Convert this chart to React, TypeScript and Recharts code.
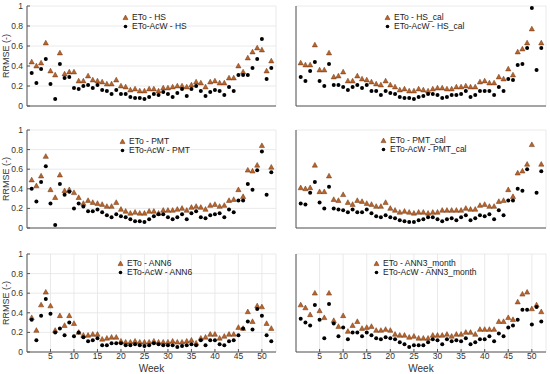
import { ScatterChart, Scatter, XAxis, YAxis, CartesianGrid, Legend } from "recharts";

const weeks = Array.from({ length: 52 }, (_, i) => i + 1);
const xTicks = [5, 10, 15, 20, 25, 30, 35, 40, 45, 50];
const yTicks = [0, 0.2, 0.4, 0.6, 0.8, 1];

type V = number | null;

const hsEto: V[] = [0.44, 0.40, 0.43, 0.63, 0.35, 0.31, 0.53, 0.32, 0.34, 0.34, 0.25, 0.25, 0.30, 0.26, 0.25, 0.24, 0.22, 0.22, 0.26, 0.20, 0.19, 0.16, 0.17, 0.15, 0.15, 0.17, 0.17, 0.15, 0.18, 0.18, 0.19, 0.20, 0.20, 0.19, 0.21, 0.24, 0.23, 0.19, 0.24, 0.25, 0.23, 0.23, 0.28, 0.28, 0.40, 0.34, 0.48, 0.54, 0.58, 0.56, 0.35, 0.45];
const hsAcw: V[] = [0.33, 0.23, 0.37, 0.47, 0.22, 0.07, 0.42, 0.28, 0.29, 0.18, 0.17, 0.20, 0.21, 0.18, 0.21, 0.16, 0.15, 0.12, 0.16, 0.12, 0.12, 0.09, 0.08, 0.08, 0.07, 0.09, 0.12, 0.11, 0.14, 0.12, 0.09, 0.13, 0.17, 0.10, 0.17, 0.20, 0.15, 0.10, 0.14, 0.16, 0.15, 0.11, 0.19, 0.15, 0.31, 0.31, 0.31, 0.38, 0.47, 0.67, 0.27, 0.38];

const hsCalEto: V[] = [0.43, 0.41, 0.41, 0.61, 0.36, 0.36, 0.53, 0.29, 0.30, 0.34, 0.25, 0.25, 0.30, 0.27, 0.26, 0.24, 0.22, 0.21, 0.25, 0.21, 0.19, 0.16, 0.17, 0.15, 0.15, 0.17, 0.16, 0.15, 0.17, 0.18, 0.18, 0.17, 0.17, 0.19, 0.19, 0.20, 0.19, 0.19, 0.24, 0.25, 0.23, 0.23, 0.29, 0.27, 0.37, 0.31, 0.54, 0.57, 0.63, 0.77, null, 0.63];
const hsCalAcw: V[] = [0.29, 0.25, 0.35, 0.44, 0.25, 0.20, 0.42, 0.21, 0.21, 0.19, 0.16, 0.19, 0.21, 0.18, 0.21, 0.15, 0.15, 0.11, 0.15, 0.13, 0.12, 0.09, 0.08, 0.08, 0.07, 0.09, 0.10, 0.12, 0.12, 0.11, 0.08, 0.09, 0.11, 0.11, 0.12, 0.15, 0.09, 0.11, 0.15, 0.15, 0.15, 0.11, 0.19, 0.15, 0.27, 0.26, 0.41, 0.42, 0.58, 0.98, 0.36, 0.58];

const pmtEto: V[] = [0.49, 0.43, 0.53, 0.73, 0.39, 0.31, 0.54, 0.38, 0.39, 0.36, 0.31, 0.25, 0.28, 0.26, 0.25, 0.24, 0.22, 0.22, 0.26, 0.19, 0.17, 0.15, 0.16, 0.15, 0.15, 0.17, 0.17, 0.15, 0.18, 0.18, 0.18, 0.19, 0.20, 0.18, 0.21, 0.22, 0.21, 0.19, 0.23, 0.24, 0.22, 0.23, 0.28, 0.29, 0.39, 0.32, 0.59, 0.58, 0.64, 0.84, null, 0.62];
const pmtAcw: V[] = [0.40, 0.27, 0.47, 0.63, 0.25, 0.03, 0.45, 0.34, 0.37, 0.20, 0.25, 0.22, 0.17, 0.17, 0.19, 0.16, 0.13, 0.11, 0.14, 0.12, 0.11, 0.09, 0.07, 0.07, 0.06, 0.09, 0.12, 0.14, 0.14, 0.11, 0.09, 0.11, 0.14, 0.09, 0.15, 0.17, 0.11, 0.10, 0.13, 0.14, 0.15, 0.11, 0.19, 0.16, 0.28, 0.28, 0.45, 0.39, 0.59, 0.78, 0.34, 0.57];

const pmtCalEto: V[] = [0.41, 0.40, 0.41, 0.64, 0.37, 0.37, 0.53, 0.29, 0.28, 0.34, 0.26, 0.24, 0.28, 0.27, 0.25, 0.24, 0.22, 0.22, 0.26, 0.20, 0.18, 0.16, 0.17, 0.16, 0.15, 0.16, 0.16, 0.15, 0.16, 0.16, 0.18, 0.18, 0.18, 0.18, 0.18, 0.20, 0.19, 0.19, 0.23, 0.24, 0.22, 0.22, 0.27, 0.28, 0.39, 0.32, 0.56, 0.58, 0.65, 0.85, null, 0.65];
const pmtCalAcw: V[] = [0.25, 0.24, 0.36, 0.47, 0.26, 0.20, 0.42, 0.20, 0.19, 0.18, 0.16, 0.19, 0.16, 0.16, 0.19, 0.15, 0.12, 0.11, 0.13, 0.11, 0.10, 0.08, 0.07, 0.06, 0.06, 0.08, 0.09, 0.11, 0.11, 0.09, 0.07, 0.09, 0.10, 0.08, 0.11, 0.13, 0.08, 0.10, 0.13, 0.12, 0.14, 0.09, 0.18, 0.13, 0.28, 0.28, 0.40, 0.38, 0.60, null, 0.36, 0.58];

const ann6Eto: V[] = [0.35, 0.22, 0.48, 0.61, 0.47, 0.22, 0.37, 0.27, 0.37, 0.29, 0.20, 0.17, 0.17, 0.18, 0.18, 0.13, 0.14, 0.15, 0.15, 0.11, 0.10, 0.10, 0.11, 0.10, 0.10, 0.10, 0.11, 0.10, 0.10, 0.10, 0.11, 0.10, 0.10, 0.11, 0.12, 0.09, 0.14, 0.15, 0.18, 0.18, 0.14, 0.16, 0.18, 0.18, 0.25, 0.24, 0.41, 0.31, 0.47, 0.46, 0.29, 0.24];
const ann6Acw: V[] = [0.33, 0.12, 0.37, 0.54, 0.39, 0.20, 0.24, 0.17, 0.30, 0.16, 0.20, 0.15, 0.11, 0.12, 0.14, 0.07, 0.07, 0.09, 0.09, 0.09, 0.07, 0.07, 0.08, 0.07, 0.06, 0.07, 0.09, 0.08, 0.07, 0.07, 0.07, 0.05, 0.06, 0.07, 0.08, 0.07, 0.12, 0.07, 0.12, 0.12, 0.08, 0.07, 0.11, 0.12, 0.17, 0.24, 0.31, 0.23, 0.44, 0.37, 0.17, 0.11];

const ann3Eto: V[] = [0.48, 0.45, 0.38, 0.60, 0.42, 0.35, 0.60, 0.32, 0.26, 0.37, 0.21, 0.27, 0.31, 0.24, 0.25, 0.26, 0.22, 0.22, 0.23, 0.22, 0.18, 0.17, 0.17, 0.15, 0.16, 0.14, 0.14, 0.14, 0.17, 0.17, 0.17, 0.18, 0.16, 0.18, 0.18, 0.20, 0.20, 0.18, 0.23, 0.23, 0.23, 0.23, 0.31, 0.31, 0.35, 0.33, 0.51, 0.59, 0.61, 0.44, 0.48, 0.41];
const ann3Acw: V[] = [0.34, 0.30, 0.27, 0.48, 0.33, 0.14, 0.49, 0.29, 0.16, 0.25, 0.13, 0.20, 0.20, 0.16, 0.20, 0.17, 0.14, 0.13, 0.15, 0.14, 0.13, 0.10, 0.08, 0.05, 0.07, 0.07, 0.07, 0.10, 0.13, 0.12, 0.08, 0.13, 0.11, 0.12, 0.11, 0.14, 0.08, 0.10, 0.13, 0.13, 0.16, 0.11, 0.19, 0.16, 0.25, 0.27, 0.33, 0.43, 0.43, 0.28, 0.46, 0.31];

const FONT = '"Liberation Sans", Arial, Helvetica, sans-serif';
const AXIS = "#555555";
const TEXT = "#333333";
const TRI_FILL = "#b8642a";
const TRI_EDGE = "#6e3510";

type Panel = {
  eto: V[];
  acw: V[];
  etoName: string;
  acwName: string;
  px: number;
  py: number;
  pw: number;
  ph: number;
  left: boolean;
  bottom: boolean;
  lx: number;
  ly: number;
};

const panels: Panel[] = [
  { eto: hsEto, acw: hsAcw, etoName: "ETo - HS", acwName: "ETo-AcW - HS", px: 27, py: 6, pw: 249, ph: 100, left: true, bottom: false, lx: 122, ly: 13 },
  { eto: hsCalEto, acw: hsCalAcw, etoName: "ETo - HS_cal", acwName: "ETo-AcW - HS_cal", px: 296, py: 6, pw: 250, ph: 100, left: false, bottom: false, lx: 384, ly: 13 },
  { eto: pmtEto, acw: pmtAcw, etoName: "ETo - PMT", acwName: "ETo-AcW - PMT", px: 27, py: 130, pw: 249, ph: 98, left: true, bottom: false, lx: 119, ly: 137 },
  { eto: pmtCalEto, acw: pmtCalAcw, etoName: "ETo - PMT_cal", acwName: "ETo-AcW - PMT_cal", px: 296, py: 130, pw: 250, ph: 98, left: false, bottom: false, lx: 380, ly: 136 },
  { eto: ann6Eto, acw: ann6Acw, etoName: "ETo - ANN6", acwName: "ETo-AcW - ANN6", px: 27, py: 254, pw: 249, ph: 98, left: true, bottom: true, lx: 117, ly: 259 },
  { eto: ann3Eto, acw: ann3Acw, etoName: "ETo - ANN3_month", acwName: "ETo-AcW - ANN3_month", px: 296, py: 254, pw: 250, ph: 98, left: false, bottom: true, lx: 373, ly: 259 },
];

const toPoints = (vals: V[]) =>
  weeks.map((w, i) => ({ week: w, v: vals[i] })).filter((d) => d.v != null);

function Tri(props: any) {
  const { cx, cy } = props;
  if (cx == null || cy == null) return null;
  return (
    <polygon
      points={`${cx},${cy - 2.8} ${cx - 2.6},${cy + 1.9} ${cx + 2.6},${cy + 1.9}`}
      fill={TRI_FILL}
      stroke={TRI_EDGE}
      strokeWidth={0.5}
    />
  );
}

function Dot(props: any) {
  const { cx, cy } = props;
  if (cx == null || cy == null) return null;
  return <circle cx={cx} cy={cy} r={2} fill="#000" />;
}

function LegendRows({ p }: { p: Panel }) {
  const row = { display: "flex", alignItems: "center", height: 9, whiteSpace: "nowrap" as const };
  return (
    <div style={{ fontFamily: FONT, fontSize: 8.5, color: "#222", lineHeight: "9px" }}>
      <div style={row}>
        <svg width={7} height={7} style={{ marginRight: 3 }}>
          <polygon points="3.5,1 1,5.6 6,5.6" fill={TRI_FILL} stroke={TRI_EDGE} strokeWidth={0.5} />
        </svg>
        {p.etoName}
      </div>
      <div style={row}>
        <svg width={7} height={7} style={{ marginRight: 3 }}>
          <circle cx={3.5} cy={3.5} r={1.8} fill="#000" />
        </svg>
        {p.acwName}
      </div>
    </div>
  );
}

function PanelChart({ p }: { p: Panel }) {
  const ML = 40;
  const MT = 10;
  const MR = 4;
  const XB = p.bottom ? 30 : 4;
  const W = ML + p.pw + MR;
  const H = MT + p.ph + XB;
  return (
    <div style={{ position: "absolute", left: p.px - ML, top: p.py - MT }}>
      <ScatterChart width={W} height={H} margin={{ top: MT, right: MR, bottom: 0, left: 0 }}>
        <CartesianGrid stroke="#e4e4e4" strokeWidth={0.8} />
        <XAxis
          type="number"
          dataKey="week"
          domain={[0, 53]}
          ticks={xTicks}
          interval={0}
          height={XB}
          stroke={AXIS}
          tickSize={-3}
          tickMargin={4}
          tick={p.bottom ? { fill: TEXT, fontSize: 8.5, fontFamily: FONT } : false}
          label={
            p.bottom
              ? { value: "Week", position: "center", dy: 1.5, style: { fill: TEXT, fontSize: 10, fontFamily: FONT } }
              : undefined
          }
        />
        <YAxis
          type="number"
          dataKey="v"
          domain={[0, 1]}
          ticks={yTicks}
          interval={0}
          width={ML}
          stroke={AXIS}
          tickSize={-3}
          tickMargin={7}
          tick={p.left ? { fill: TEXT, fontSize: 8.5, fontFamily: FONT } : false}
          label={
            p.left
              ? { value: "RRMSE (-)", angle: -90, position: "center", dx: -1, style: { fill: TEXT, fontSize: 9, fontFamily: FONT } }
              : undefined
          }
        />
        <Legend
          layout="vertical"
          align="center"
          verticalAlign="middle"
          content={() => <LegendRows p={p} />}
          wrapperStyle={{ left: p.lx - (p.px - ML), top: p.ly - (p.py - MT), width: "auto", height: "auto", bottom: "auto", right: "auto" }}
        />
        <Scatter name={p.etoName} data={toPoints(p.eto)} shape={Tri} fill={TRI_FILL} isAnimationActive={false} />
        <Scatter name={p.acwName} data={toPoints(p.acw)} shape={Dot} fill="#000" isAnimationActive={false} />
      </ScatterChart>
    </div>
  );
}

export default function App() {
  return (
    <div style={{ position: "absolute", left: 0, top: 0, width: 550, height: 374, background: "#fff", overflow: "hidden" }}>
      {panels.map((p) => (
        <PanelChart key={p.etoName} p={p} />
      ))}
    </div>
  );
}
